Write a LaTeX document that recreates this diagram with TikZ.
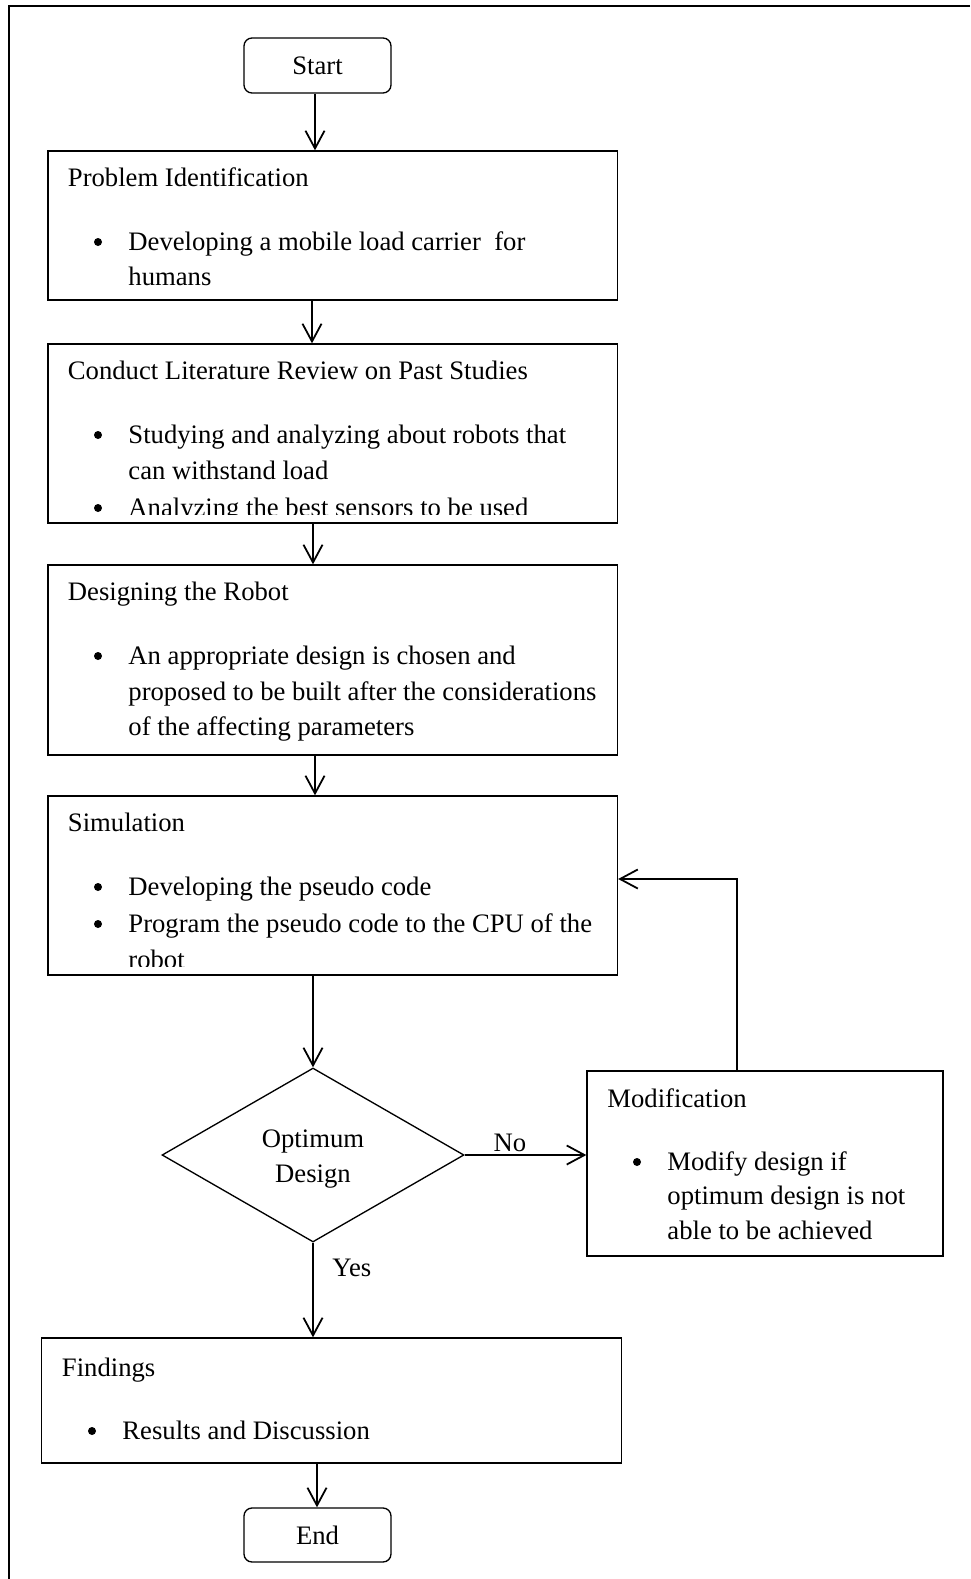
\documentclass[tikz,border=0pt]{standalone}
\usepackage{fontspec}
\setmainfont{Liberation Serif}
\usetikzlibrary{shapes.geometric,arrows.meta,fit}
\begin{document}
\begin{tikzpicture}[x=0.45pt,y=-0.45pt,
  font=\fontsize{12}{15.9}\selectfont,
  box/.style={draw, line width=0.6pt, rectangle, inner sep=0pt},
  term/.style={draw, line width=0.6pt, rounded corners=3.6pt, inner sep=0pt},
  arr/.style={line width=0.8pt, -{Straight Barb[length=8pt,width=8.6pt]}},
  txt/.style={anchor=base west, inner sep=0pt},
  bul/.style={circle, fill, inner sep=0pt, minimum size=3.6pt}]
\useasboundingbox (0,0) rectangle (970,1579);
% outer frame
\coordinate (fr1) at (970,6);
\coordinate (fr2) at (9,6);
\coordinate (fr3) at (9,1579);
\draw[line width=0.7pt] (fr1) -- (fr2) -- (fr3);

% boxes
\node[term, fit={(244,38) (391,93)}, label={[inner sep=0pt]center:Start}] (start) {};
\node[box, fit={(48,151) (617.5,300)}] (b1) {};
\node[box, fit={(48,344) (617.5,523)}] (b2) {};
\node[box, fit={(48,565) (617.5,755)}] (b3) {};
\node[box, fit={(48,796) (617.5,975)}] (b4) {};
\node[draw, line width=0.6pt, diamond, minimum width=135.9pt, minimum height=78.3pt,
      inner sep=0pt, label={[align=center, inner sep=0pt, yshift=-1.8pt]center:Optimum\\Design}] (dec) at (313,1155) {};
\node[box, fit={(587,1071) (943,1256)}] (mod) {};
\node[box, fit={(41.5,1338) (621.5,1463)}] (fin) {};
\node[term, fit={(244,1508) (391,1562)}, label={[inner sep=0pt]center:End}] (end) {};

% box 1 text
\node[txt] (t1a) at (67.5,186) {Problem Identification};
\node[bul] (t1b) at (98,242) {};
\node[txt] (t1c) at (128,250) {Developing a mobile load carrier \ for};
\node[txt] (t1d) at (128,285.5) {humans};

% box 2 text
\begin{scope}
\clip (48,344) rectangle (617.5,514);
\node[txt] (t2a) at (67.5,379) {Conduct Literature Review on Past Studies};
\node[bul] (t2b) at (98,435) {};
\node[txt] (t2c) at (128,443) {Studying and analyzing about robots that};
\node[txt] (t2d) at (128,479) {can withstand load};
\node[bul] (t2e) at (98,508) {};
\node[txt] (t2f) at (128,516) {Analyzing the best sensors to be used};
\end{scope}

% box 3 text
\node[txt] (t3a) at (67.5,600) {Designing the Robot};
\node[bul] (t3b) at (98,656) {};
\node[txt] (t3c) at (128,664) {An appropriate design is chosen and};
\node[txt] (t3d) at (128,700) {proposed to be built after the considerations};
\node[txt] (t3e) at (128,735.5) {of the affecting parameters};

% box 4 text
\begin{scope}
\clip (48,796) rectangle (617.5,966);
\node[txt] (t4a) at (67.5,831) {Simulation};
\node[bul] (t4b) at (98,887) {};
\node[txt] (t4c) at (128,895) {Developing the pseudo code};
\node[bul] (t4d) at (98,924) {};
\node[txt] (t4e) at (128,932) {Program the pseudo code to the CPU of the};
\node[txt] (t4f) at (128,968) {robot};
\end{scope}

% modification text
\node[txt] (tma) at (607,1107) {Modification};
\node[bul] (tmb) at (637,1162) {};
\node[txt] (tmc) at (667,1170) {Modify design if};
\node[txt] (tmd) at (667,1204) {optimum design is not};
\node[txt] (tme) at (667,1239) {able to be achieved};

% findings text
\node[txt] (tfa) at (61.5,1376) {Findings};
\node[bul] (tfb) at (92,1431) {};
\node[txt] (tfc) at (122,1439) {Results and Discussion};

% connectors
\coordinate (x315) at (315,0);
\coordinate (x312) at (312,0);
\coordinate (x313) at (313,0);
\coordinate (x317) at (317,0);
\coordinate (lp) at (737,879);
\draw[arr] (start.south -| x315) -- (b1.north -| x315);
\draw[arr] (b1.south -| x312) -- (b2.north -| x312);
\draw[arr] (b2.south -| x313) -- (b3.north -| x313);
\draw[arr] (b3.south -| x315) -- (b4.north -| x315);
\draw[arr] (b4.south -| dec.north) -- (dec.north);
\draw[arr] (dec.east) -- (mod.west |- dec.east);
\draw[arr] (mod.north -| lp) |- (b4.east |- lp);
\draw[arr] (dec.south) -- (fin.north -| dec.south);
\draw[arr] (fin.south -| x317) -- (end.north -| x317);

% labels
\node[anchor=base, inner sep=0pt] (no) at (510,1151) {No};
\node[txt] (yes) at (332,1276) {Yes};
\end{tikzpicture}
\end{document}
